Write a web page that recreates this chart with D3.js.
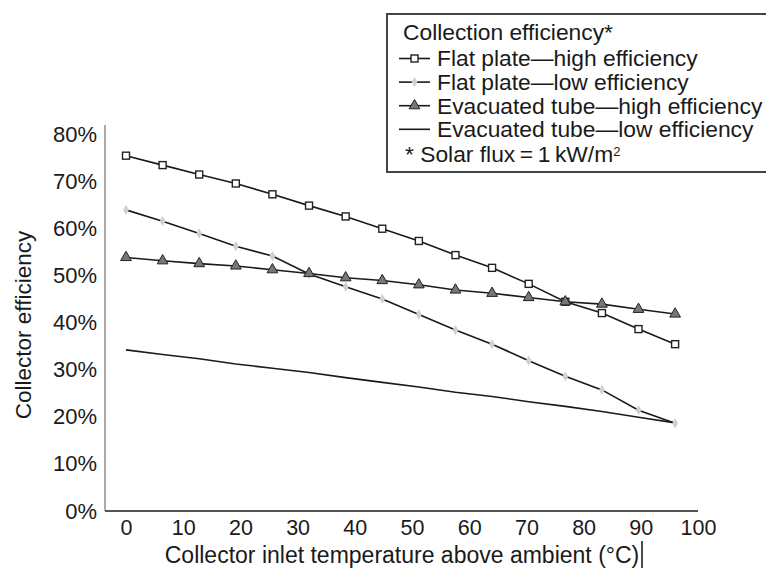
<!DOCTYPE html>
<html>
<head>
<meta charset="utf-8">
<script src="https://cdn.jsdelivr.net/npm/d3@7"></script>
<style>
  body { margin: 0; background: #fff; }
  text { font-family: "Liberation Sans", Arial, sans-serif; fill: #1a1a1a; }
</style>
</head>
<body>
<svg id="viz"></svg>
<script>
var width = 766;
var height = 569;

// temperature above ambient (°C)
var temps = [0, 6.4, 12.8, 19.2, 25.6, 32, 38.4, 44.8, 51.2, 57.6, 64, 70.4, 76.8, 83.2, 89.6, 96];
// efficiency in %
var flatHigh = [75.4, 73.4, 71.4, 69.5, 67.2, 64.8, 62.5, 59.9, 57.3, 54.3, 51.6, 48.2, 44.4, 42.0, 38.6, 35.4];
var flatLow = [63.9, 61.5, 58.9, 56.2, 54.1, 50.3, 47.6, 45.0, 41.7, 38.4, 35.4, 31.9, 28.6, 25.7, 21.4, 18.6];
var evacHigh = [53.8, 53.1, 52.5, 52.0, 51.2, 50.4, 49.5, 48.9, 48.0, 46.9, 46.2, 45.3, 44.4, 43.9, 42.8, 41.8];
var evacLow = [34.2, 33.2, 32.3, 31.2, 30.3, 29.4, 28.3, 27.3, 26.3, 25.2, 24.3, 23.2, 22.2, 21.1, 19.9, 18.7];

var xTicks = [0, 10, 20, 30, 40, 50, 60, 70, 80, 90, 100];
var yTicks = [0, 10, 20, 30, 40, 50, 60, 70, 80];

var seriesNames = ["Flat plate\u2014high efficiency", "Flat plate\u2014low efficiency",
                   "Evacuated tube\u2014high efficiency", "Evacuated tube\u2014low efficiency"];
var seriesMarks = ["square", "diamond", "triangle", "none"];
var seriesValues = [flatHigh, flatLow, evacHigh, evacLow];

var svg = d3.select("#viz")
    .attr("width", width)
    .attr("height", height);

var x = d3.scaleLinear().domain([0, 100]).range([126, 698]);
var y = d3.scaleLinear().domain([0, 80]).range([511, 134]);

// axes
svg.append("line")
    .attr("x1", 105).attr("x2", 105)
    .attr("y1", 125).attr("y2", y(0))
    .style("stroke", "#aaa")
    .style("stroke-width", 2);

svg.append("line")
    .attr("x1", 105).attr("x2", 698)
    .attr("y1", y(0)).attr("y2", y(0))
    .style("stroke", "#555")
    .style("stroke-width", 2.2);

var xAxis = d3.axisBottom(x).tickValues(xTicks).tickSize(0).tickPadding(9);
svg.append("g")
    .attr("transform", "translate(0," + y(0) + ")")
    .call(xAxis)
    .call(function (g) { g.select(".domain").remove(); })
    .selectAll("text")
    .style("font-size", "21.5px")
    .attr("dy", "0.71em");

var yAxis = d3.axisLeft(y).tickValues(yTicks).tickSize(0).tickPadding(8)
    .tickFormat(function (d) { return d + "%"; });
svg.append("g")
    .attr("transform", "translate(105,0)")
    .call(yAxis)
    .call(function (g) { g.select(".domain").remove(); })
    .selectAll("text")
    .style("font-size", "22px");

svg.selectAll(".tick text").style("fill", "#1a1a1a").style("font-family", "'Liberation Sans', Arial, sans-serif");

// axis titles
svg.append("text")
    .attr("x", 402)
    .attr("y", 563)
    .attr("text-anchor", "middle")
    .style("font-size", "23px")
    .text("Collector inlet temperature above ambient (\u00b0C)");

svg.append("line")
    .attr("x1", 642).attr("x2", 642)
    .attr("y1", 541).attr("y2", 568)
    .style("stroke", "#111")
    .style("stroke-width", 1.5);

svg.append("text")
    .attr("transform", "translate(31,325) rotate(-90)")
    .attr("text-anchor", "middle")
    .style("font-size", "22.5px")
    .text("Collector efficiency");

// markers
function drawMark(g, type, cx, cy) {
    if (type === "square") {
        g.append("rect")
            .attr("x", cx - 3.5).attr("y", cy - 3.5)
            .attr("width", 7).attr("height", 7)
            .style("fill", "#fff")
            .style("stroke", "#222")
            .style("stroke-width", 1.4);
    } else if (type === "diamond") {
        g.append("path")
            .attr("d", d3.symbol().type(d3.symbolDiamond).size(30)())
            .attr("transform", "translate(" + cx + "," + cy + ")")
            .style("fill", "#d0d0d0")
            .style("stroke", "none");
    } else if (type === "triangle") {
        g.append("path")
            .attr("d", d3.symbol().type(d3.symbolTriangle).size(50)())
            .attr("transform", "translate(" + cx + "," + cy + ")")
            .style("fill", "#777")
            .style("stroke", "#222")
            .style("stroke-width", 1);
    }
}

var line = d3.line()
    .x(function (d) { return x(d[0]); })
    .y(function (d) { return y(d[1]); });

var plot = svg.append("g");

seriesValues.forEach(function (vals, i) {
    var pts = temps.map(function (t, j) { return [t, vals[j]]; });
    plot.append("path")
        .datum(pts)
        .attr("d", line)
        .style("fill", "none")
        .style("stroke", "#1a1a1a")
        .style("stroke-width", 1.6);
});

seriesValues.forEach(function (vals, i) {
    var g = plot.append("g");
    temps.forEach(function (t, j) {
        drawMark(g, seriesMarks[i], x(t), y(vals[j]));
    });
});

// legend
var legend = svg.append("g");

legend.append("rect")
    .attr("x", 387).attr("y", 14)
    .attr("width", 400).attr("height", 158)
    .style("fill", "#fff")
    .style("stroke", "#444")
    .style("stroke-width", 2);

legend.append("text")
    .attr("x", 403).attr("y", 40)
    .style("font-size", "22.8px")
    .text("Collection efficiency*");

seriesNames.forEach(function (name, i) {
    var ly = 58.5 + i * 23.6;
    legend.append("line")
        .attr("x1", 399).attr("x2", 430)
        .attr("y1", ly).attr("y2", ly)
        .style("stroke", "#1a1a1a")
        .style("stroke-width", 1.6);
    drawMark(legend, seriesMarks[i], 414.5, ly);
    legend.append("text")
        .attr("x", 437).attr("y", ly + 7.8)
        .style("font-size", "22.8px")
        .text(name);
});

var note = legend.append("text")
    .attr("x", 405).attr("y", 162)
    .style("font-size", "22.8px");
note.append("tspan").text("* Solar flux\u2009=\u20091\u2009kW/m");
note.append("tspan").attr("dy", -6).style("font-size", "13px").text("2");
</script>
</body>
</html>
